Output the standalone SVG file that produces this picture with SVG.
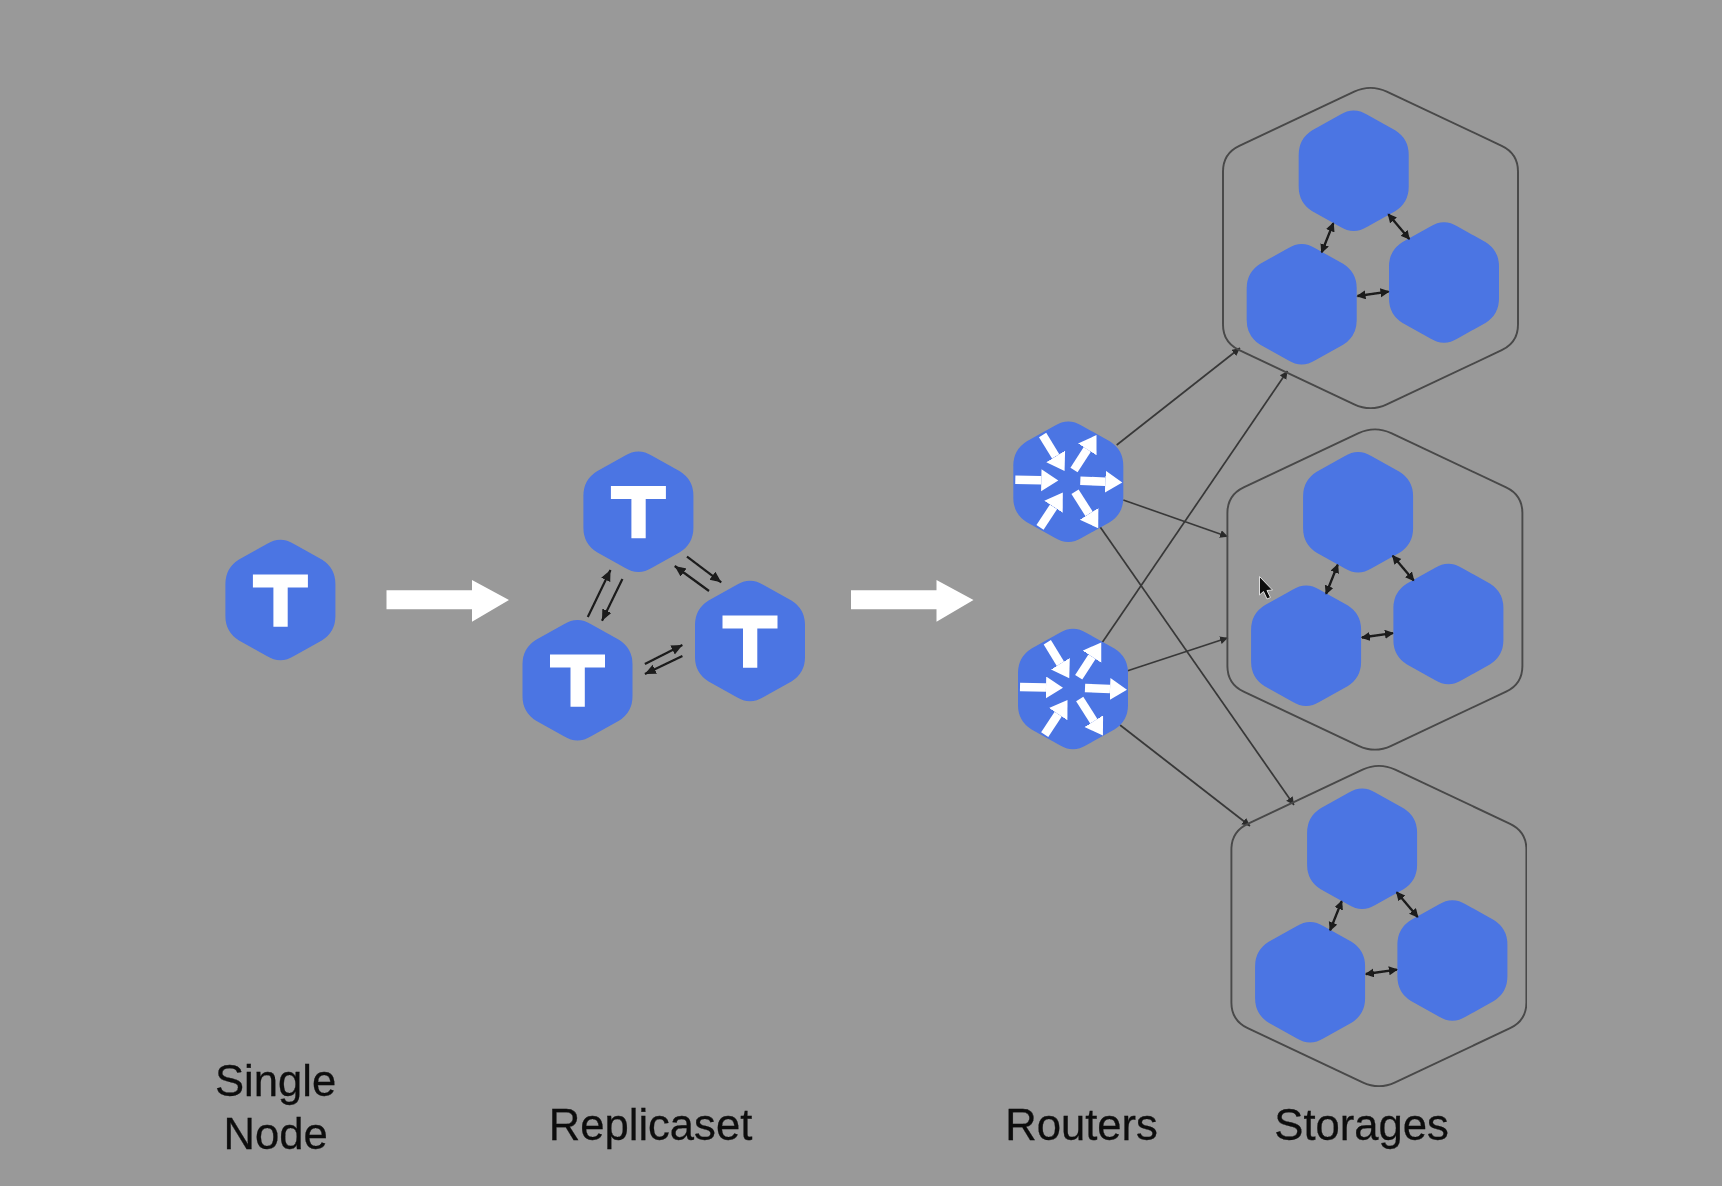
<svg xmlns="http://www.w3.org/2000/svg" width="1722" height="1186" viewBox="0 0 1722 1186">
<style>
.hex{fill:#4b74e3}
.outer{fill:none;stroke:#484848;stroke-width:1.9}
.link{fill:none;stroke:#383838;stroke-width:1.7;marker-end:url(#ah)}
.rep{fill:none;stroke:#1a1a1a;stroke-width:2.2;marker-end:url(#ah2)}
.dbl{fill:none;stroke:#1a1a1a;stroke-width:2.3;marker-start:url(#ah3);marker-end:url(#ah3)}
.tee{fill:#fff}
.ray{stroke:#fff;stroke-width:8.5;marker-end:url(#wh)}
.lbl{font-family:"Liberation Sans",Arial,sans-serif;font-size:43.6px;fill:#111;stroke:#111;stroke-width:0.3;text-anchor:middle}
</style>
<defs>
<filter id="soft" x="0" y="0" width="100%" height="100%"><feGaussianBlur stdDeviation="0.6"/></filter>
<marker id="ah" markerUnits="userSpaceOnUse" markerWidth="12" markerHeight="10" refX="8" refY="4" orient="auto"><path d="M0,0L8,4L0,8Z" fill="#2c2c2c"/></marker>
<marker id="ah2" markerUnits="userSpaceOnUse" markerWidth="14" markerHeight="12" refX="11" refY="5" orient="auto"><path d="M0,0L11,5L0,10Z" fill="#1a1a1a"/></marker>
<marker id="ah3" markerUnits="userSpaceOnUse" markerWidth="12" markerHeight="10" refX="8" refY="4.5" orient="auto-start-reverse"><path d="M0,0L9,4.5L0,9Z" fill="#1a1a1a"/></marker>
<marker id="wh" markerUnits="userSpaceOnUse" markerWidth="20" markerHeight="24" refX="0" refY="11" orient="auto"><path d="M0,0L17,11L0,22Z" fill="#fff"/></marker>
<path id="h" class="hex" d="M-13.6,-56Q0,-64.5 13.6,-56L41.4,-40.5Q55,-32 55,-16L55,16Q55,32 41.4,40.5L13.6,56Q0,64.5 -13.6,56L-41.4,40.5Q-55,32 -55,16L-55,-16Q-55,-32 -41.4,-40.5Z"/>
<path id="t" class="tee" d="M-27.5,-25.5H27.5V-12.5H7.3V26.7H-7V-12.5H-27.5Z"/>
<path id="o" class="outer" d="M-16.3,-156.3Q0,-164 16.3,-156.3L131.2,-102.2Q147.5,-94.5 147.5,-76.5L147.5,76.5Q147.5,94.5 131.2,102.2L16.3,156.3Q0,164 -16.3,156.3L-131.2,102.2Q-147.5,94.5 -147.5,76.5L-147.5,-76.5Q-147.5,-94.5 -131.2,-102.2Z"/>
<g id="rays">
<line class="ray" x1="12" y1="-1" x2="37" y2="0"/>
<line class="ray" x1="-53" y1="-2" x2="-27" y2="-1.5"/>
<line class="ray" x1="-25.7" y1="-46.7" x2="-12.6" y2="-25.3"/>
<line class="ray" x1="5.7" y1="-11.7" x2="19" y2="-32.3"/>
<line class="ray" x1="-28.3" y1="45.7" x2="-14.8" y2="25.1"/>
<line class="ray" x1="6.7" y1="10" x2="20.8" y2="32.2"/>
</g>
<path id="big" fill="#fff" d="M0,-9.7H85.5V-20L122.5,0L85.5,21.7V9.3H0Z"/>
</defs>
<rect id="background" width="1722" height="1186" fill="#999999"/>
<g filter="url(#soft)">
<g id="connectors">
<line class="link" x1="1116.7" y1="445" x2="1240" y2="348"/>
<line class="link" x1="1101.7" y1="643.3" x2="1287.5" y2="371"/>
<line class="link" x1="1123.3" y1="500" x2="1228" y2="536.7"/>
<line class="link" x1="1127.7" y1="670.7" x2="1228" y2="637.7"/>
<line class="link" x1="1100" y1="526.7" x2="1294" y2="805"/>
<line class="link" x1="1120" y1="725" x2="1250" y2="826"/>
<line class="rep" x1="587.8" y1="617" x2="610.5" y2="570"/>
<line class="rep" x1="622.4" y1="579" x2="602" y2="620.7"/>
<line class="rep" x1="687" y1="556.7" x2="721.2" y2="582.3"/>
<line class="rep" x1="709" y1="591" x2="674.7" y2="566"/>
<line class="rep" x1="644.9" y1="664" x2="682.4" y2="645"/>
<line class="rep" x1="682.4" y1="656" x2="644.9" y2="674"/>
<use href="#big" x="386.5" y="600"/>
<use href="#big" x="851" y="600"/>
</g>
<g id="single-node"><use href="#h" x="280.4" y="600"/><use href="#t" x="280.4" y="600"/></g>
<g id="replica-top"><use href="#h" x="638.4" y="511.7"/><use href="#t" x="638.4" y="511.5"/></g>
<g id="replica-left"><use href="#h" x="577.5" y="680.3"/><use href="#t" x="577.5" y="680"/></g>
<g id="replica-right"><use href="#h" x="750" y="641"/><use href="#t" x="750" y="641"/></g>
<g id="router-1"><use href="#h" x="1068.3" y="481.7"/><use href="#rays" x="1068.3" y="481.7"/></g>
<g id="router-2"><use href="#h" x="1073" y="689"/><use href="#rays" x="1073" y="689"/></g>
<g id="storage-1">
<use href="#o" x="1370.5" y="248"/>
<use href="#h" x="1353.7" y="170.8"/><use href="#h" x="1301.7" y="304.3"/><use href="#h" x="1444" y="282.5"/>
<line class="dbl" x1="1333.3" y1="223.3" x2="1321.7" y2="252.3"/>
<line class="dbl" x1="1388.3" y1="214.3" x2="1409.3" y2="239"/>
<line class="dbl" x1="1357.5" y1="296" x2="1388.5" y2="291.7"/>
</g>
<g id="storage-2" transform="translate(4.4 341.5)">
<use href="#o" x="1370.5" y="248"/>
<use href="#h" x="1353.7" y="170.8"/><use href="#h" x="1301.7" y="304.3"/><use href="#h" x="1444" y="282.5"/>
<line class="dbl" x1="1333.3" y1="223.3" x2="1321.7" y2="252.3"/>
<line class="dbl" x1="1388.3" y1="214.3" x2="1409.3" y2="239"/>
<line class="dbl" x1="1357.5" y1="296" x2="1388.5" y2="291.7"/>
</g>
<g id="storage-3" transform="translate(8.4 678)">
<use href="#o" x="1370.5" y="248"/>
<use href="#h" x="1353.7" y="170.8"/><use href="#h" x="1301.7" y="304.3"/><use href="#h" x="1444" y="282.5"/>
<line class="dbl" x1="1333.3" y1="223.3" x2="1321.7" y2="252.3"/>
<line class="dbl" x1="1388.3" y1="214.3" x2="1409.3" y2="239"/>
<line class="dbl" x1="1357.5" y1="296" x2="1388.5" y2="291.7"/>
</g>
<path id="cursor" d="M1259.5,576.5V595L1263.5,591.5L1267,599L1270.5,597.5L1267,590.5L1272.5,590Z" fill="#111" stroke="#ddd" stroke-width="1"/>
<text class="lbl" x="275.6" y="1095.5">Single</text>
<text class="lbl" x="275.6" y="1148.5">Node</text>
<text class="lbl" x="650.5" y="1139.5">Replicaset</text>
<text class="lbl" x="1081.6" y="1139.5">Routers</text>
<text class="lbl" x="1361.6" y="1139.5">Storages</text>
</g>
</svg>
